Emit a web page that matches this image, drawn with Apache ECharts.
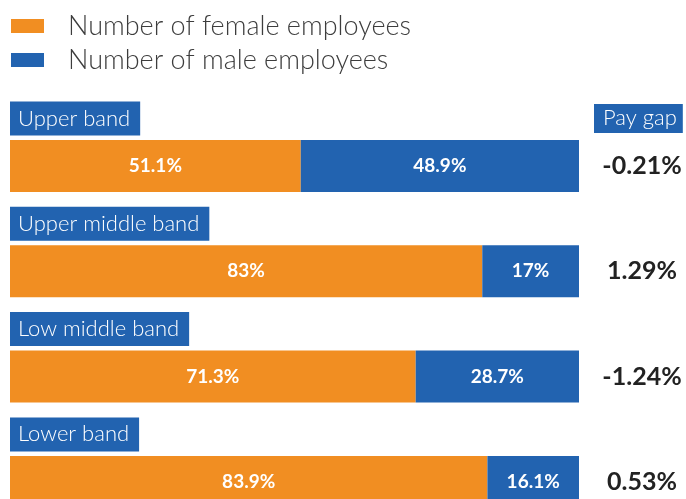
<!DOCTYPE html>
<html>
<head>
<meta charset="utf-8">
<script src="https://cdn.jsdelivr.net/npm/echarts@6/dist/echarts.min.js"></script>
<style>
html,body{margin:0;padding:0;background:#fff;overflow:hidden;}
#chart{width:686px;height:540px;}
</style>
</head>
<body>
<div id="chart"></div>
<script>
const bands = ['Upper band', 'Upper middle band', 'Low middle band', 'Lower band'];
const female = [51.1, 83, 71.3, 83.9];
const male = [48.9, 17, 28.7, 16.1];
const payGap = ['-0.21%', '1.29%', '-1.24%', '0.53%'];
const seriesNames = ['Number of female employees', 'Number of male employees'];

const ORANGE = '#F18E22';
const BLUE = '#2263B0';
const FONT = 'Lato';
const BAR_W = 52;

const chart = echarts.init(document.getElementById('chart'));
chart.setOption({
  animation: false,
  title: {
    text: 'Pay gap',
    left: 594,
    top: 104,
    padding: [3, 6, 4, 9],
    backgroundColor: BLUE,
    textStyle: { color: '#fff', fontFamily: FONT, fontWeight: 300, fontSize: 22, lineHeight: 22 }
  },
  legend: {
    data: seriesNames,
    orient: 'vertical',
    left: 11,
    top: 12.5,
    padding: 0,
    itemWidth: 33,
    itemHeight: 14,
    itemGap: 7,
    icon: 'rect',
    selectedMode: false,
    textStyle: { color: '#3d3d3d', fontFamily: FONT, fontWeight: 300, fontSize: 27, padding: [0, 0, 0, 19] }
  },
  grid: { left: 10, right: 107, top: 113.35, bottom: 5.45, containLabel: false },
  xAxis: { type: 'value', min: 0, max: 100, show: false },
  yAxis: [
    { type: 'category', data: bands, inverse: true, show: false },
    {
      type: 'category', data: payGap, inverse: true, position: 'right',
      axisLine: { show: false }, axisTick: { show: false }, splitLine: { show: false },
      axisLabel: { margin: 63, align: 'center', color: '#222', fontFamily: FONT, fontWeight: 'bold', fontSize: 25 }
    }
  ],
  series: [
    {
      name: seriesNames[0], type: 'bar', stack: 'total', data: female, barWidth: BAR_W,
      itemStyle: { color: ORANGE },
      label: { show: true, position: 'inside', formatter: '{c}%', color: '#fff', fontFamily: FONT, fontWeight: 'bold', fontSize: 19 }
    },
    {
      name: seriesNames[1], type: 'bar', stack: 'total', data: male, barWidth: BAR_W,
      itemStyle: { color: BLUE },
      label: { show: true, position: 'inside', formatter: '{c}%', color: '#fff', fontFamily: FONT, fontWeight: 'bold', fontSize: 19 }
    },
    {
      type: 'custom',
      data: bands.map((b, i) => [0, i]),
      encode: { x: 0, y: 1 },
      silent: true,
      renderItem: function (params, api) {
        const c = api.coord([0, api.value(1)]);
        const top = c[1] - BAR_W / 2;
        return {
          type: 'text',
          x: c[0],
          y: top - 4.5,
          style: {
            text: bands[params.dataIndex],
            fill: '#fff',
            fontFamily: FONT,
            fontWeight: 300,
            fontSize: 22,
            lineHeight: 22,
            align: 'left',
            verticalAlign: 'bottom',
            backgroundColor: BLUE,
            padding: [6, 10, 6, 8]
          }
        };
      }
    }
  ]
});
</script>
</body>
</html>
